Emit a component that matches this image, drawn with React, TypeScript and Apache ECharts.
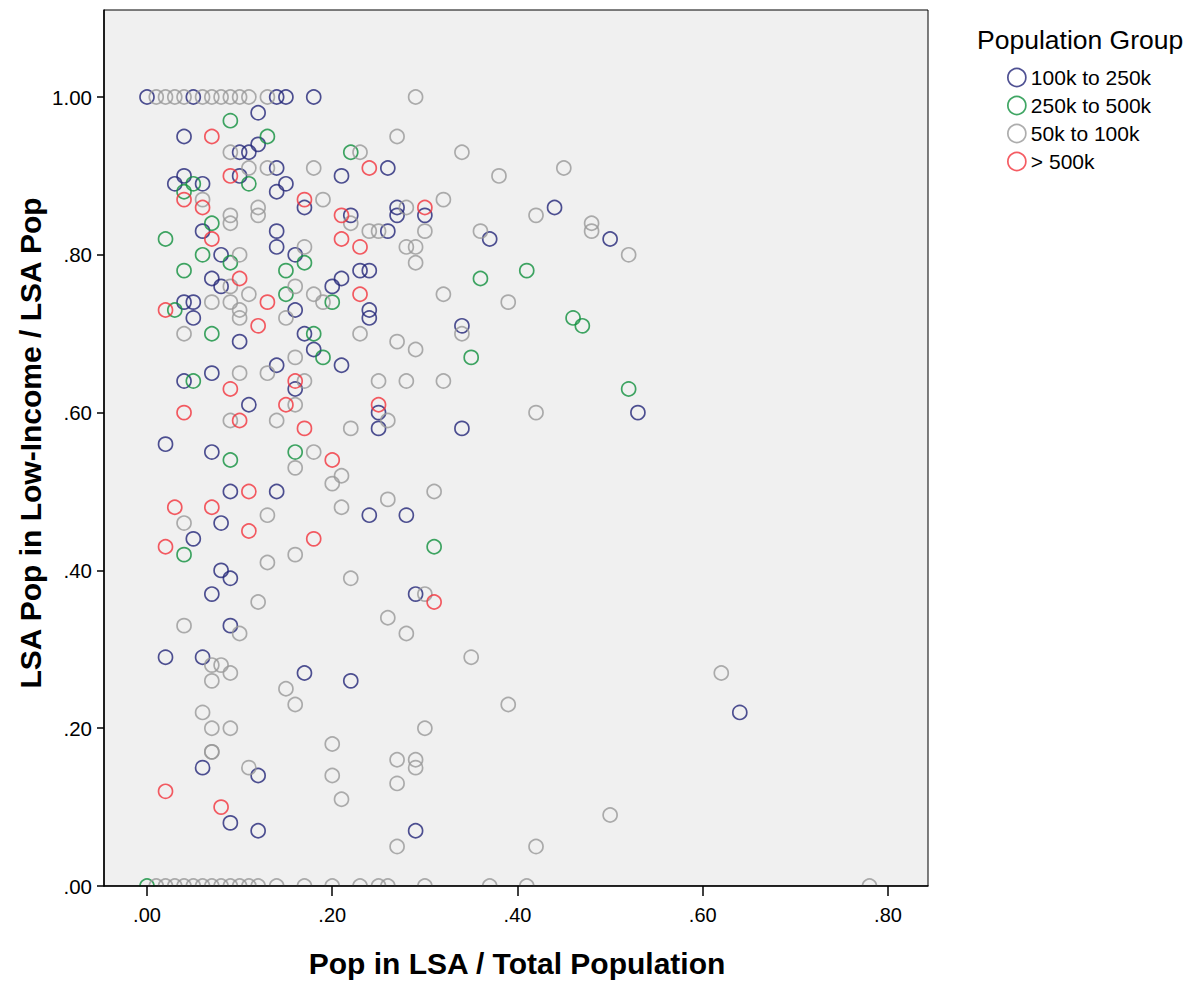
import React, { useEffect, useRef } from "react";
import * as echarts from "echarts";

// ---- Data (x = Pop in LSA / Total Population, y = LSA Pop in Low-Income / LSA Pop) ----
const groupNames = ["100k to 250k", "250k to 500k", "50k to 100k", "> 500k"];
const groupColors = ["#232578", "#10903d", "#999999", "#f2333c"];

const pts100to250: number[][] = [
  [0.00, 1.00], [0.05, 1.00], [0.14, 1.00], [0.15, 1.00], [0.18, 1.00],
  [0.12, 0.98], [0.04, 0.95], [0.12, 0.94], [0.10, 0.93], [0.11, 0.93],
  [0.10, 0.90], [0.04, 0.90], [0.03, 0.89], [0.06, 0.89], [0.06, 0.83],
  [0.08, 0.80], [0.07, 0.77], [0.08, 0.76], [0.04, 0.74], [0.05, 0.74],
  [0.05, 0.72], [0.10, 0.69], [0.07, 0.65], [0.04, 0.64], [0.11, 0.61],
  [0.02, 0.56], [0.07, 0.55], [0.09, 0.50], [0.08, 0.46], [0.05, 0.44],
  [0.08, 0.40], [0.09, 0.39], [0.07, 0.37], [0.09, 0.33], [0.02, 0.29],
  [0.06, 0.29], [0.06, 0.15], [0.12, 0.14], [0.09, 0.08], [0.12, 0.07],
  [0.14, 0.91], [0.26, 0.91], [0.21, 0.90], [0.15, 0.89], [0.14, 0.88],
  [0.17, 0.86], [0.22, 0.85], [0.27, 0.86], [0.27, 0.85], [0.14, 0.83],
  [0.26, 0.83], [0.14, 0.81], [0.16, 0.80], [0.23, 0.78], [0.24, 0.78],
  [0.21, 0.77], [0.20, 0.76], [0.16, 0.73], [0.24, 0.73], [0.24, 0.72],
  [0.17, 0.70], [0.18, 0.68], [0.14, 0.66], [0.21, 0.66], [0.16, 0.63],
  [0.25, 0.60], [0.25, 0.58], [0.14, 0.50], [0.24, 0.47], [0.28, 0.47],
  [0.29, 0.37], [0.17, 0.27], [0.22, 0.26], [0.29, 0.07], [0.30, 0.85],
  [0.37, 0.82], [0.44, 0.86], [0.50, 0.82], [0.34, 0.71], [0.53, 0.60],
  [0.34, 0.58], [0.64, 0.22],
];

const pts250to500: number[][] = [
  [0.09, 0.97], [0.13, 0.95], [0.22, 0.93], [0.11, 0.89], [0.05, 0.89],
  [0.04, 0.88], [0.07, 0.84], [0.02, 0.82], [0.06, 0.80], [0.09, 0.79],
  [0.04, 0.78], [0.03, 0.73], [0.07, 0.70], [0.05, 0.64], [0.09, 0.54],
  [0.04, 0.42], [0.00, 0.00], [0.17, 0.79], [0.15, 0.78], [0.15, 0.75],
  [0.20, 0.74], [0.18, 0.70], [0.19, 0.67], [0.16, 0.55], [0.36, 0.77],
  [0.41, 0.78], [0.46, 0.72], [0.47, 0.71], [0.35, 0.67], [0.52, 0.63],
  [0.31, 0.43],
];

const pts50to100: number[][] = [
  [0.01, 1.00], [0.02, 1.00], [0.03, 1.00], [0.04, 1.00], [0.06, 1.00],
  [0.07, 1.00], [0.08, 1.00], [0.09, 1.00], [0.10, 1.00], [0.11, 1.00],
  [0.13, 1.00], [0.29, 1.00],
  [0.27, 0.95], [0.09, 0.93], [0.23, 0.93], [0.34, 0.93], [0.11, 0.91],
  [0.13, 0.91], [0.18, 0.91], [0.45, 0.91], [0.38, 0.90], [0.06, 0.87],
  [0.19, 0.87], [0.32, 0.87], [0.12, 0.86], [0.28, 0.86], [0.12, 0.85],
  [0.09, 0.85], [0.42, 0.85], [0.09, 0.84], [0.22, 0.84], [0.48, 0.84],
  [0.24, 0.83], [0.25, 0.83], [0.30, 0.83], [0.36, 0.83], [0.48, 0.83],
  [0.17, 0.81], [0.28, 0.81], [0.29, 0.81], [0.10, 0.80], [0.52, 0.80],
  [0.29, 0.79], [0.09, 0.76], [0.16, 0.76], [0.11, 0.75], [0.18, 0.75],
  [0.32, 0.75], [0.07, 0.74], [0.09, 0.74], [0.19, 0.74], [0.39, 0.74],
  [0.10, 0.73], [0.10, 0.72], [0.15, 0.72], [0.04, 0.70], [0.23, 0.70],
  [0.34, 0.70], [0.27, 0.69], [0.29, 0.68], [0.16, 0.67], [0.10, 0.65],
  [0.13, 0.65], [0.17, 0.64], [0.25, 0.64], [0.28, 0.64], [0.32, 0.64],
  [0.16, 0.61], [0.42, 0.60], [0.09, 0.59], [0.14, 0.59], [0.26, 0.59],
  [0.22, 0.58], [0.18, 0.55], [0.16, 0.53], [0.21, 0.52], [0.20, 0.51],
  [0.31, 0.50], [0.26, 0.49], [0.21, 0.48], [0.13, 0.47], [0.04, 0.46],
  [0.16, 0.42], [0.13, 0.41], [0.22, 0.39], [0.30, 0.37], [0.12, 0.36],
  [0.26, 0.34], [0.04, 0.33], [0.10, 0.32], [0.28, 0.32], [0.35, 0.29],
  [0.07, 0.28], [0.08, 0.28], [0.09, 0.27], [0.62, 0.27], [0.07, 0.26],
  [0.15, 0.25], [0.16, 0.23], [0.39, 0.23], [0.06, 0.22], [0.07, 0.20],
  [0.09, 0.20], [0.30, 0.20], [0.20, 0.18], [0.07, 0.17], [0.07, 0.17],
  [0.27, 0.16], [0.29, 0.16], [0.11, 0.15], [0.29, 0.15], [0.20, 0.14],
  [0.27, 0.13], [0.21, 0.11], [0.50, 0.09], [0.27, 0.05], [0.42, 0.05],
  [0.01, 0.00], [0.02, 0.00], [0.03, 0.00], [0.04, 0.00], [0.05, 0.00],
  [0.06, 0.00], [0.07, 0.00], [0.08, 0.00], [0.09, 0.00], [0.10, 0.00],
  [0.11, 0.00], [0.12, 0.00], [0.14, 0.00], [0.17, 0.00], [0.20, 0.00],
  [0.23, 0.00], [0.25, 0.00], [0.26, 0.00], [0.30, 0.00], [0.37, 0.00],
  [0.41, 0.00], [0.78, 0.00],
];

const ptsOver500: number[][] = [
  [0.07, 0.95], [0.24, 0.91], [0.09, 0.90], [0.04, 0.87], [0.17, 0.87],
  [0.06, 0.86], [0.30, 0.86], [0.21, 0.85], [0.07, 0.82], [0.21, 0.82],
  [0.23, 0.81], [0.10, 0.77], [0.23, 0.75], [0.13, 0.74], [0.02, 0.73],
  [0.12, 0.71], [0.16, 0.64], [0.09, 0.63], [0.15, 0.61], [0.25, 0.61],
  [0.04, 0.60], [0.10, 0.59], [0.17, 0.58], [0.20, 0.54], [0.11, 0.50],
  [0.03, 0.48], [0.07, 0.48], [0.11, 0.45], [0.18, 0.44], [0.02, 0.43],
  [0.31, 0.36], [0.02, 0.12], [0.08, 0.10],
];

const xTicks = [0, 0.2, 0.4, 0.6, 0.8];
const yTicks = [0, 0.2, 0.4, 0.6, 0.8, 1.0];

const FONT = "'Liberation Sans', Arial, Helvetica, sans-serif";

function fmt(v: number): string {
  const s = Number(v).toFixed(2);
  return s.startsWith("0") ? s.slice(1) : s;
}

export default function App() {
  const ref = useRef<HTMLDivElement>(null);
  useEffect(() => {
    if (!ref.current) return;
    const chart = echarts.init(ref.current, null, { renderer: "svg" });
    const allGroups = [pts100to250, pts250to500, pts50to100, ptsOver500];
    const series = allGroups.map((d, i) => ({
      type: "scatter",
      name: groupNames[i],
      data: d,
      symbol: "circle",
      symbolSize: 14,
      itemStyle: {
        color: "transparent",
        borderColor: groupColors[i],
        borderWidth: 1.7,
      },
      emphasis: { disabled: true },
      z: 2,
    }));
    chart.setOption({
      animation: false,
      backgroundColor: "#ffffff",
      grid: {
        left: 104,
        top: 10,
        right: 268,
        bottom: 95,
        show: true,
        backgroundColor: "#f0f0f0",
        borderColor: "#000000",
        borderWidth: 1,
      },
      xAxis: {
        type: "value",
        min: -0.04642,
        max: 0.84318,
        z: 10,
        axisLine: { show: true, onZero: false, lineStyle: { color: "#000", width: 1.5 } },
        axisTick: {
          show: true,
          length: 10,
          lineStyle: { color: "#000", width: 1.5 },
          customValues: xTicks,
        },
        axisLabel: {
          customValues: xTicks,
          formatter: fmt,
          fontSize: 20,
          color: "#000",
          fontFamily: FONT,
          margin: 19,
        },
        splitLine: { show: false },
      },
      yAxis: {
        type: "value",
        min: 0,
        max: 1.1103,
        z: 10,
        axisLine: { show: true, onZero: false, lineStyle: { color: "#000", width: 1.5 } },
        axisTick: {
          show: true,
          length: 7,
          lineStyle: { color: "#000", width: 1.5 },
          customValues: yTicks,
        },
        axisLabel: {
          customValues: yTicks,
          formatter: fmt,
          fontSize: 20.5,
          color: "#000",
          fontFamily: FONT,
          margin: 12,
        },
        splitLine: { show: false },
      },
      legend: {
        orient: "vertical",
        left: 1002,
        top: 62,
        icon: "circle",
        itemWidth: 18,
        itemHeight: 18,
        itemGap: 7,
        selectedMode: false,
        data: groupNames.map((n, i) => ({
          name: n,
          itemStyle: { color: "transparent", borderColor: groupColors[i], borderWidth: 1.7 },
        })),
        textStyle: { fontSize: 21, color: "#000", fontFamily: FONT },
      },
      graphic: [
        {
          type: "rect",
          z: 5,
          silent: true,
          shape: { x: 104.5, y: 886.8, width: 824, height: 14 },
          style: { fill: "#ffffff" },
        },
        {
          type: "text",
          x: 517,
          y: 963,
          silent: true,
          style: {
            text: "Pop in LSA / Total Population",
            fontSize: 30,
            fontWeight: "bold",
            fontFamily: FONT,
            fill: "#000",
            textAlign: "center",
            textVerticalAlign: "middle",
          },
        },
        {
          type: "text",
          x: 30,
          y: 443,
          rotation: Math.PI / 2,
          silent: true,
          style: {
            text: "LSA Pop in Low-Income / LSA Pop",
            fontSize: 30,
            fontWeight: "bold",
            fontFamily: FONT,
            fill: "#000",
            textAlign: "center",
            textVerticalAlign: "middle",
          },
        },
        {
          type: "text",
          x: 977,
          y: 40,
          silent: true,
          style: {
            text: "Population Group",
            fontSize: 26.5,
            fontFamily: FONT,
            fill: "#000",
            textAlign: "left",
            textVerticalAlign: "middle",
          },
        },
      ],
      series,
    });
    return () => chart.dispose();
  }, []);
  return (
    <div
      ref={ref}
      style={{ position: "fixed", left: 0, top: 0, width: 1196, height: 981 }}
    />
  );
}
